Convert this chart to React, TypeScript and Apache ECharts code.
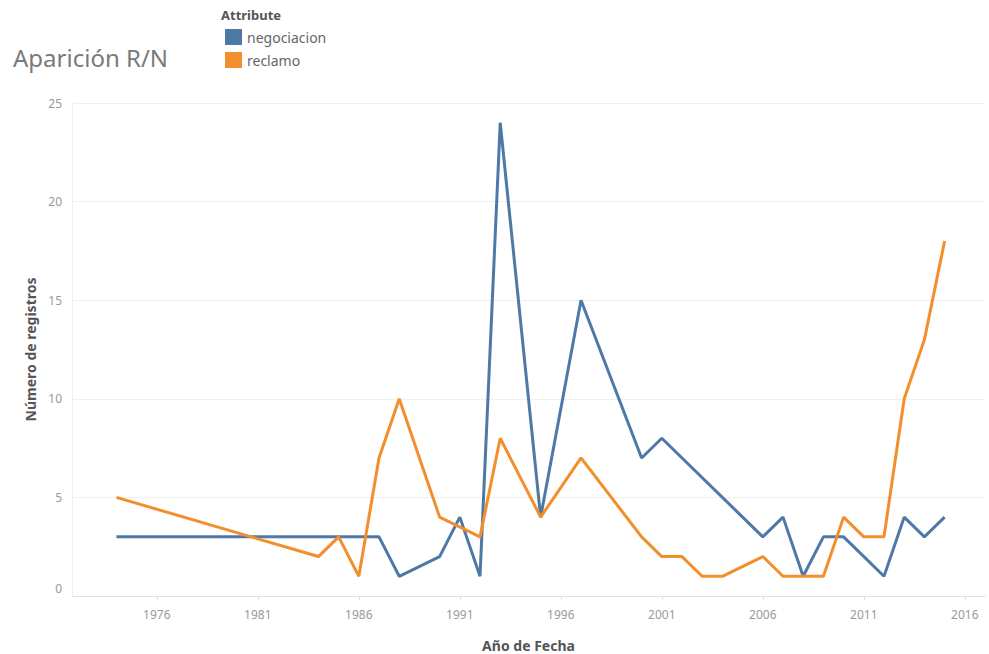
import React, { useEffect, useRef } from "react";
import * as echarts from "echarts";

const negYears = [1974, 1987, 1988, 1990, 1991, 1992, 1993, 1995, 1997, 2000, 2001, 2006, 2007, 2008, 2009, 2010, 2012, 2013, 2014, 2015];
const negValues = [3, 3, 1, 2, 4, 1, 24, 4, 15, 7, 8, 3, 4, 1, 3, 3, 1, 4, 3, 4];
const recYears = [1974, 1984, 1985, 1986, 1987, 1988, 1990, 1992, 1993, 1995, 1997, 2000, 2001, 2002, 2003, 2004, 2006, 2007, 2008, 2009, 2010, 2011, 2012, 2013, 2014, 2015];
const recValues = [5, 2, 3, 1, 7, 10, 4, 3, 8, 4, 7, 3, 2, 2, 1, 1, 2, 1, 1, 1, 4, 3, 3, 10, 13, 18];
const xTicks = [1976, 1981, 1986, 1991, 1996, 2001, 2006, 2011, 2016];
const seriesNames = ["negociacion", "reclamo"];
const colors = ["#4e79a7", "#f28e2b"];

const FONT = "'Noto Sans', sans-serif";

export default function App() {
  const ref = useRef<HTMLDivElement>(null);
  useEffect(() => {
    document.body.style.margin = "0";
    const chart = echarts.init(ref.current!, null, { renderer: "svg" });
    const pairs = (xs: number[], ys: number[]) => xs.map((x, i) => [x, ys[i]]);
    chart.setOption({
      animation: false,
      textStyle: { fontFamily: FONT },
      title: [
        {
          text: "Aparición R/N",
          left: 8,
          top: 40,
          textStyle: { fontSize: 24, fontWeight: "normal", color: "#7a7a7a", fontFamily: FONT },
        },
        {
          text: "Attribute",
          left: 216,
          top: 3,
          textStyle: { fontSize: 13, fontWeight: "bold", color: "#555", fontFamily: FONT },
        },
      ],
      legend: {
        orient: "vertical",
        left: 220,
        top: 24,
        icon: "rect",
        itemWidth: 17,
        itemHeight: 16,
        itemGap: 7,
        data: seriesNames,
        textStyle: { fontSize: 14, color: "#666", fontFamily: FONT },
      },
      grid: { left: 72, right: 4, top: 103, bottom: 58, outerBoundsMode: "none", containLabel: false },
      xAxis: {
        type: "value",
        min: 1971.8,
        max: 2017,
        name: "Año de Fecha",
        nameLocation: "middle",
        nameGap: 42,
        nameTextStyle: { fontSize: 14, fontWeight: "bold", color: "#555", fontFamily: FONT },
        splitLine: { show: false },
        axisLine: { show: true, lineStyle: { color: "#e2e2e2" } },
        axisTick: { show: true, length: 4, lineStyle: { color: "#e2e2e2" }, customValues: xTicks },
        axisLabel: {
          color: "#999",
          fontSize: 12,
          margin: 12,
          customValues: xTicks,
          formatter: (v: number) => String(v),
        },
      },
      yAxis: {
        type: "value",
        min: 0,
        max: 25,
        interval: 5,
        name: "Número de registros",
        nameLocation: "middle",
        nameGap: 35,
        nameRotate: 90,
        nameTextStyle: { fontSize: 14, fontWeight: "bold", color: "#555", fontFamily: FONT },
        axisLine: { show: true, lineStyle: { color: "#eeeeee" } },
        axisTick: { show: false },
        splitLine: { show: true, lineStyle: { color: "#f0f0f0" } },
        axisLabel: {
          color: "#999",
          fontSize: 12,
          margin: 10,
          formatter: (v: number) => (v === 0 ? "{z|0}" : String(v)),
          rich: { z: { color: "#999", fontSize: 12, padding: [0, 0, 16, 0] } },
        },
      },
      series: [
        {
          name: seriesNames[0],
          type: "line",
          data: pairs(negYears, negValues),
          showSymbol: false,
          symbol: "none",
          lineStyle: { width: 3, color: colors[0] },
          itemStyle: { color: colors[0] },
        },
        {
          name: seriesNames[1],
          type: "line",
          data: pairs(recYears, recValues),
          showSymbol: false,
          symbol: "none",
          lineStyle: { width: 3, color: colors[1] },
          itemStyle: { color: colors[1] },
        },
      ],
    });
    return () => chart.dispose();
  }, []);
  return <div ref={ref} style={{ width: 989, height: 654 }} />;
}
